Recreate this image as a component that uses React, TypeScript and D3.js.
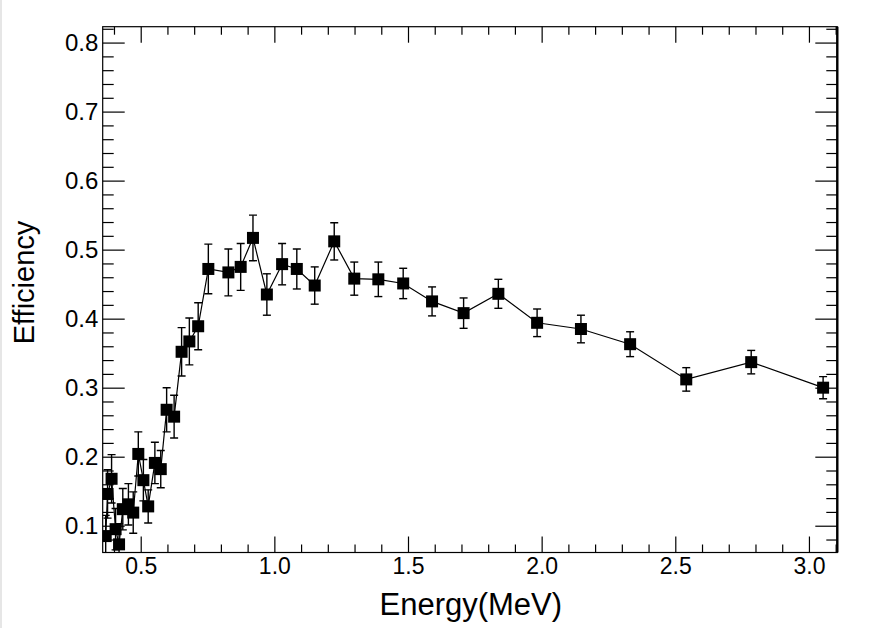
import React, { useRef, useEffect } from 'react';
import * as d3 from 'd3';

// 에너지 (MeV)
const energy = [
  0.369, 0.376, 0.391, 0.406, 0.419, 0.433, 0.454, 0.472, 0.491, 0.51,
  0.528, 0.553, 0.575, 0.597, 0.625, 0.653, 0.682, 0.715, 0.753, 0.828,
  0.874, 0.92, 0.972, 1.029, 1.084, 1.151, 1.224, 1.299, 1.389, 1.482,
  1.59, 1.708, 1.838, 1.983, 2.147, 2.331, 2.541, 2.784, 3.053,
];

// 효율
const efficiency = [
  0.085, 0.146, 0.168, 0.095, 0.073, 0.124, 0.131, 0.119, 0.204, 0.166,
  0.128, 0.191, 0.182, 0.268, 0.258, 0.352, 0.367, 0.389, 0.472, 0.467,
  0.475, 0.517, 0.435, 0.479, 0.472, 0.448, 0.512, 0.458, 0.457, 0.451,
  0.425, 0.408, 0.436, 0.394, 0.385, 0.363, 0.312, 0.337, 0.3,
];

// 오차
const errors = [
  0.03, 0.035, 0.035, 0.03, 0.03, 0.03, 0.03, 0.03, 0.032, 0.03,
  0.024, 0.03, 0.027, 0.032, 0.031, 0.035, 0.034, 0.034, 0.036, 0.034,
  0.034, 0.033, 0.03, 0.03, 0.029, 0.027, 0.027, 0.024, 0.025, 0.022,
  0.021, 0.022, 0.021, 0.02, 0.02, 0.018, 0.017, 0.017, 0.016,
];

const xMajorTicks = [0.5, 1.0, 1.5, 2.0, 2.5, 3.0];
const yMajorTicks = [0.1, 0.2, 0.3, 0.4, 0.5, 0.6, 0.7, 0.8];

const FONT = '"Liberation Sans", Arial, Helvetica, sans-serif';

const EfficiencyPlot = () => {
  const ref = useRef<SVGSVGElement | null>(null);

  useEffect(() => {
    document.body.style.margin = '0';
    const svg = d3.select(ref.current);
    svg.selectAll('*').remove();

    const width = 875;
    const height = 628;
    svg.attr('width', width).attr('height', height);

    const left = 102.7;
    const right = 837.3;
    const top = 26.7;
    const bottom = 552.5;

    const x = d3.scaleLinear().domain([0.3578, 3.1061]).range([left, right]);
    const y = d3.scaleLinear().domain([0.0612, 0.823]).range([bottom, top]);

    const data = energy.map((e, i) => ({ e, v: efficiency[i], err: errors[i] }));

    // 배경
    svg.append('rect').attr('width', width).attr('height', height).attr('fill', '#fff');
    svg.append('rect').attr('x', 0).attr('y', 0).attr('width', 2).attr('height', height).attr('fill', '#e6e6e6');

    // 부눈금
    const xMinor = d3.range(4, 32).map((d) => d / 10).filter((d) => !xMajorTicks.some((m) => Math.abs(m - d) < 1e-6));
    const yMinor = d3.range(4, 42).map((d) => d / 50).filter((d) => !yMajorTicks.some((m) => Math.abs(m - d) < 1e-6) && d > 0.0612 && d < 0.823);

    const axes = svg.append('g').attr('stroke', '#000').attr('stroke-width', 1.2);

    const fmt = d3.format('.1f');

    // X축 (아래)
    const gx = svg.append('g').attr('transform', `translate(0,${bottom})`)
      .call(d3.axisBottom(x).tickValues(xMajorTicks).tickSizeInner(-16).tickSizeOuter(0).tickPadding(5.2).tickFormat((d) => fmt(d as number)));
    gx.append('g').call(d3.axisBottom(x).tickValues(xMinor).tickSizeInner(-8).tickSizeOuter(0).tickFormat(() => ''));
    // X축 (위)
    const gxt = svg.append('g').attr('transform', `translate(0,${top})`)
      .call(d3.axisTop(x).tickValues(xMajorTicks).tickSizeInner(-16).tickSizeOuter(0).tickFormat(() => ''));
    gxt.append('g').call(d3.axisTop(x).tickValues(xMinor).tickSizeInner(-8).tickSizeOuter(0).tickFormat(() => ''));

    // Y축 (왼쪽)
    const gy = svg.append('g').attr('transform', `translate(${left},0)`)
      .call(d3.axisLeft(y).tickValues(yMajorTicks).tickSizeInner(-22).tickSizeOuter(0).tickPadding(4.4).tickFormat((d) => fmt(d as number)));
    gy.append('g').call(d3.axisLeft(y).tickValues(yMinor).tickSizeInner(-11).tickSizeOuter(0).tickFormat(() => ''));
    // Y축 (오른쪽)
    const gyr = svg.append('g').attr('transform', `translate(${right},0)`)
      .call(d3.axisRight(y).tickValues(yMajorTicks).tickSizeInner(-22).tickSizeOuter(0).tickFormat(() => ''));
    gyr.append('g').call(d3.axisRight(y).tickValues(yMinor).tickSizeInner(-11).tickSizeOuter(0).tickFormat(() => ''));

    svg.selectAll('.domain').remove();
    svg.selectAll('.tick line').attr('stroke', '#000').attr('stroke-width', 1.2);
    gx.selectAll('.tick text')
      .attr('fill', '#000')
      .style('font-size', '23px')
      .style('font-family', FONT);
    gy.selectAll('.tick text')
      .attr('fill', '#000')
      .style('font-size', '24px')
      .style('font-family', FONT);

    // 프레임
    axes.append('rect')
      .attr('x', left).attr('y', top)
      .attr('width', right - left).attr('height', bottom - top)
      .attr('fill', 'none');
    axes.append('line').attr('x1', right).attr('x2', right).attr('y1', top).attr('y2', bottom).attr('stroke-width', 2.4);

    // 클립
    svg.append('clipPath').attr('id', 'frame-clip')
      .append('rect').attr('x', left).attr('y', top).attr('width', right - left).attr('height', bottom - top);

    const plot = svg.append('g').attr('clip-path', 'url(#frame-clip)');

    // 연결선
    const line = d3.line<{ e: number; v: number }>().x((d) => x(d.e)).y((d) => y(d.v));
    plot.append('path').datum(data).attr('d', line).attr('fill', 'none').attr('stroke', '#000').attr('stroke-width', 1.2);

    // 오차 막대
    const eb = plot.append('g').attr('stroke', '#000').attr('stroke-width', 1.4);
    eb.selectAll('line.v').data(data).enter().append('line')
      .attr('x1', (d) => x(d.e)).attr('x2', (d) => x(d.e))
      .attr('y1', (d) => y(d.v - d.err)).attr('y2', (d) => y(d.v + d.err));
    eb.selectAll('line.t').data(data).enter().append('line')
      .attr('x1', (d) => x(d.e) - 4).attr('x2', (d) => x(d.e) + 4)
      .attr('y1', (d) => y(d.v + d.err)).attr('y2', (d) => y(d.v + d.err));
    eb.selectAll('line.b').data(data).enter().append('line')
      .attr('x1', (d) => x(d.e) - 4).attr('x2', (d) => x(d.e) + 4)
      .attr('y1', (d) => y(d.v - d.err)).attr('y2', (d) => y(d.v - d.err));

    // 마커
    const ms = 12;
    plot.append('g').selectAll('rect').data(data).enter().append('rect')
      .attr('x', (d) => x(d.e) - ms / 2)
      .attr('y', (d) => y(d.v) - ms / 2)
      .attr('width', ms).attr('height', ms)
      .attr('fill', '#000');

    // 축 제목
    svg.append('text')
      .text('Energy(MeV)')
      .attr('x', 470.8).attr('y', 615)
      .attr('text-anchor', 'middle')
      .attr('font-size', 31)
      .attr('fill', '#000')
      .style('font-family', FONT);

    svg.append('text')
      .text('Efficiency')
      .attr('transform', 'translate(34,282.5) rotate(-90)')
      .attr('text-anchor', 'middle')
      .attr('font-size', 29)
      .attr('fill', '#000')
      .style('font-family', FONT);
  }, []);

  return <svg ref={ref} style={{ position: 'absolute', left: 0, top: 0 }} />;
};

export default function App() {
  return <EfficiencyPlot />;
}
